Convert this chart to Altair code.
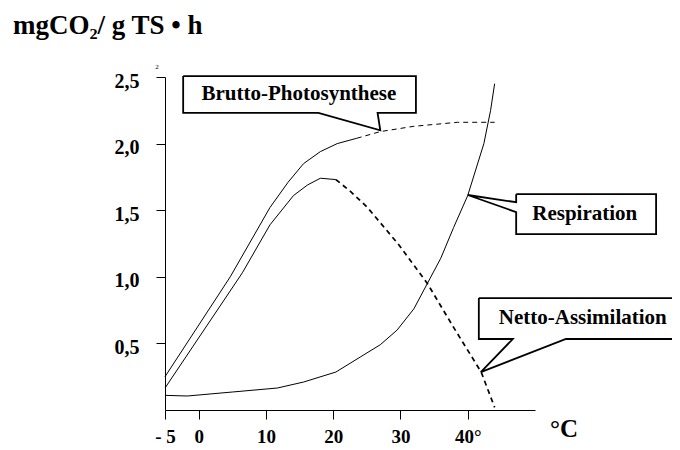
import altair as alt
import pandas as pd

# ---- data ----
brutto_x = [-5, 4.7, 10.6, 13.3, 15.6, 18.1, 20.6, 23.5, 27.0, 32.0, 38.5, 44.0]
brutto_y = [0.25, 1.0, 1.52, 1.71, 1.85, 1.94, 2.0, 2.04, 2.09, 2.13, 2.16, 2.16]
brutto_dash_from = 7

netto_x = [-5, 6.5, 10.6, 14.1, 16.2, 18.1, 20.4, 22.6, 25.1, 29.6, 34.0, 37.9, 42.0, 44.0]
netto_y = [0.165, 1.03, 1.39, 1.61, 1.69, 1.74, 1.73, 1.64, 1.52, 1.25, 0.95, 0.62, 0.285, 0.02]
netto_dash_from = 6

resp_x = [-5, -1.7, 5, 11.7, 15.6, 20.4, 24.1, 27.0, 29.5, 32.0, 34.0, 36.0, 37.9, 40.0, 42.4, 43.4, 44.0]
resp_y = [0.11, 0.105, 0.135, 0.165, 0.21, 0.285, 0.40, 0.49, 0.60, 0.76, 0.95, 1.14, 1.37, 1.61, 2.0, 2.25, 2.45]

x_tick_values = [-5, 0, 10, 20, 30, 40]
x_tick_labels = ["- 5", "0", "10", "20", "30", "40°"]
y_tick_values = [0.5, 1.0, 1.5, 2.0, 2.5]
y_tick_labels = ["0,5", "1,0", "1,5", "2,0", "2,5"]

title_text = "mgCO₂/ g TS • h"
unit_text = "°C"

# callouts: outline polylines (in data units) and label
callout_names = ["Brutto-Photosynthese", "Respiration", "Netto-Assimilation"]
callout_outline_x = [
    [-2.3, 32.3, 32.3, 26.6, 27.0, 17.8, -2.3, -2.3],
    [47.2, 68.0, 68.0, 47.2, 47.2, 40.0, 47.2, 47.2],
    [41.65, 72.5, 72.5, 54.6, 41.94, 46.7, 41.65, 41.65],
]
callout_outline_y = [
    [2.507, 2.507, 2.23, 2.23, 2.10, 2.23, 2.23, 2.507],
    [1.62, 1.62, 1.32, 1.32, 1.486, 1.614, 1.56, 1.62],
    [0.84, 0.84, 0.533, 0.533, 0.285, 0.533, 0.533, 0.84],
]
callout_label_x = [14.9, 57.4, 57.1]
callout_label_y = [2.37, 1.47, 0.69]

# ---- build tables ----
def rows(name, xs, ys):
    return [{"series": name, "i": i, "x": a, "y": b} for i, (a, b) in enumerate(zip(xs, ys))]

solid_rows = (rows("Brutto", brutto_x[:brutto_dash_from + 1], brutto_y[:brutto_dash_from + 1])
              + rows("Netto", netto_x[:netto_dash_from + 1], netto_y[:netto_dash_from + 1])
              + rows("Resp", resp_x, resp_y))
brutto_dash = pd.DataFrame(rows("Brutto", brutto_x[brutto_dash_from:], brutto_y[brutto_dash_from:]))
netto_dash = pd.DataFrame(rows("Netto", netto_x[netto_dash_from:], netto_y[netto_dash_from:]))
solid = pd.DataFrame(solid_rows)

outline_rows = []
for n, xs, ys in zip(callout_names, callout_outline_x, callout_outline_y):
    outline_rows += rows(n, xs, ys)
outline = pd.DataFrame(outline_rows)
labels = pd.DataFrame({"x": callout_label_x, "y": callout_label_y, "t": callout_names})

def expr(vals, labs):
    parts = [f"datum.value == {v} ? '{l}'" for v, l in zip(vals, labs)]
    return " : ".join(parts) + " : ''"

FONT = "Liberation Serif"
xscale = alt.Scale(domain=[-5, 50], nice=False, zero=False)
yscale = alt.Scale(domain=[0, 2.5], nice=False, zero=False)
xaxis = alt.Axis(values=x_tick_values, labelExpr=expr(x_tick_values, x_tick_labels),
                 tickSize=9, labelPadding=8, labelFontSize=19, labelFont=FONT,
                 labelFontWeight="bold", labelColor="black", domainColor="black",
                 tickColor="black", grid=False, title=None, labelFlush=False,
                 labelOverlap=False)
yaxis = alt.Axis(values=y_tick_values, labelExpr=expr(y_tick_values, y_tick_labels),
                 tickSize=9, labelPadding=17, labelFontSize=20, labelFont=FONT,
                 labelFontWeight="bold", labelColor="black", domainColor="black",
                 tickColor="black", grid=False, title=None, labelFlush=False,
                 labelOverlap=False, labelOffset=4)
X = alt.X("x:Q", scale=xscale, axis=xaxis)
Y = alt.Y("y:Q", scale=yscale, axis=yaxis)

solid_l = alt.Chart(solid).mark_line(color="black", strokeWidth=1).encode(
    x=X, y=Y, detail="series:N", order="i:Q")
bdash_l = alt.Chart(brutto_dash).mark_line(color="black", strokeWidth=1, strokeDash=[5, 4]).encode(
    x=X, y=Y, order="i:Q")
ndash_l = alt.Chart(netto_dash).mark_line(color="black", strokeWidth=1.7, strokeDash=[5, 4]).encode(
    x=X, y=Y, order="i:Q")
outline_l = alt.Chart(outline).mark_line(color="black", strokeWidth=1.8, strokeJoin="miter").encode(
    x=X, y=Y, detail="series:N", order="i:Q")
label_l = alt.Chart(labels).mark_text(font=FONT, fontSize=21, fontWeight="bold", color="black",
                                      align="center", baseline="middle").encode(
    x=X, y=Y, text="t:N")

one = pd.DataFrame({"a": [0]})
title_l = alt.Chart(one).mark_text(text=title_text, font=FONT, fontSize=27, fontWeight="bold",
                                   color="black", align="left", baseline="alphabetic").encode(
    x=alt.value(-152), y=alt.value(-43))
unit_l = alt.Chart(one).mark_text(text=unit_text, font=FONT, fontSize=25, fontWeight="bold",
                                  color="black", align="left", baseline="alphabetic").encode(
    x=alt.value(385), y=alt.value(360))
small_l = alt.Chart(one).mark_text(text="2", font=FONT, fontSize=7, color="black",
                                   align="center", baseline="alphabetic").encode(
    x=alt.value(-8), y=alt.value(-8))

chart = alt.layer(solid_l, bdash_l, ndash_l, outline_l, label_l, title_l, unit_l, small_l).properties(
    width=370, height=333,
    autosize=alt.AutoSizeParams(type="none"),
    padding={"left": 157, "top": 69, "right": 137, "bottom": 40},
    background="white",
).configure_view(stroke=None)

chart.save("out.html", embed_options={"renderer": "svg", "actions": False})
